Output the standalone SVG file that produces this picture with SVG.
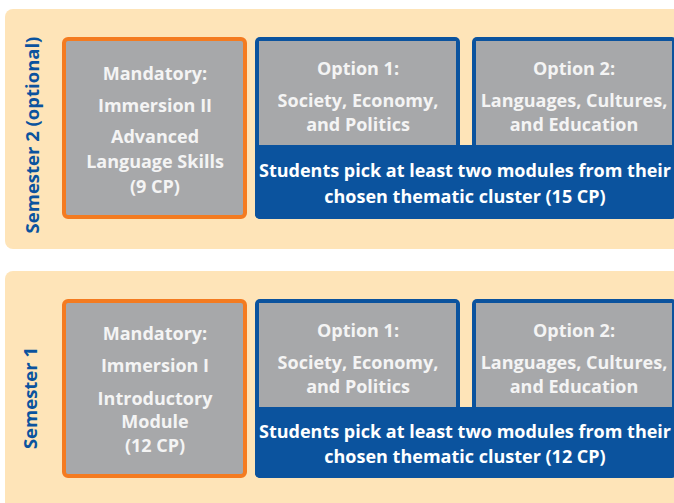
<svg xmlns="http://www.w3.org/2000/svg" width="674" height="503" viewBox="0 0 674 503">
<style>
.band{fill:#fee4b8}
.mand{fill:#a7a8aa;stroke:#f47b20;stroke-width:4}
.blue{fill:#0b539e}
.gray{fill:#a7a8aa}
.t{font-family:"Open Sans","Noto Sans",sans-serif;font-weight:700;font-size:18px;fill:#f4f4f4;text-anchor:middle}
.tb{font-family:"Open Sans","Noto Sans",sans-serif;font-weight:700;font-size:18px;fill:#ffffff;text-anchor:middle}
.sem{font-family:"Open Sans","Noto Sans",sans-serif;font-weight:700;font-size:18.5px;fill:#0b539e;text-anchor:middle}
</style>
<rect width="674" height="503" fill="#ffffff"/>
<g id="semester2">
<rect class="band" x="5" y="9" width="690" height="240" rx="8"/>
<text class="sem" transform="translate(39,135) rotate(-90)">Semester 2 (optional)</text>
</g>
<g id="mandatory2">
<rect class="mand" x="64" y="39" width="181" height="178" rx="4"/>
<text class="t" x="155" y="80">Mandatory:</text>
<text class="t" x="155" y="112">Immersion II</text>
<text class="t" x="155" y="143">Advanced</text>
<text class="t" x="155" y="168">Language Skills</text>
<text class="t" x="155" y="193">(9 CP)</text>
</g>
<g id="options2">
<rect class="blue" x="255" y="37" width="205" height="182" rx="5"/>
<rect class="blue" x="472" y="37" width="205" height="182" rx="5"/>
<rect class="blue" x="255" y="145" width="418" height="74" rx="5"/>
<rect class="gray" x="259" y="41" width="197" height="104"/>
<rect class="gray" x="476" y="41" width="196" height="104"/>
<text class="t" x="358" y="75">Option 1:</text>
<text class="t" x="358" y="107">Society, Economy,</text>
<text class="t" x="358" y="131">and Politics</text>
<text class="t" x="574" y="75">Option 2:</text>
<text class="t" x="574" y="107">Languages, Cultures,</text>
<text class="t" x="574" y="131">and Education</text>
<text class="tb" x="465" y="177">Students pick at least two modules from their</text>
<text class="tb" x="465" y="203">chosen thematic cluster (15 CP)</text>
</g>
<g id="semester1">
<rect class="band" x="5" y="271" width="690" height="250" rx="8"/>
<text class="sem" transform="translate(37,398) rotate(-90)">Semester 1</text>
</g>
<g id="mandatory1">
<rect class="mand" x="64" y="301" width="181" height="175" rx="4"/>
<text class="t" x="155" y="340">Mandatory:</text>
<text class="t" x="155" y="372">Immersion I</text>
<text class="t" x="155" y="405">Introductory</text>
<text class="t" x="155" y="428">Module</text>
<text class="t" x="155" y="452">(12 CP)</text>
</g>
<g id="options1">
<rect class="blue" x="255" y="299" width="205" height="179" rx="5"/>
<rect class="blue" x="472" y="299" width="205" height="179" rx="5"/>
<rect class="blue" x="255" y="407" width="418" height="71" rx="5"/>
<rect class="gray" x="259" y="303" width="197" height="104"/>
<rect class="gray" x="476" y="303" width="196" height="104"/>
<text class="t" x="358" y="337">Option 1:</text>
<text class="t" x="358" y="369">Society, Economy,</text>
<text class="t" x="358" y="393">and Politics</text>
<text class="t" x="574" y="337">Option 2:</text>
<text class="t" x="574" y="369">Languages, Cultures,</text>
<text class="t" x="574" y="393">and Education</text>
<text class="tb" x="465" y="438">Students pick at least two modules from their</text>
<text class="tb" x="465" y="463">chosen thematic cluster (12 CP)</text>
</g>
<g id="connectors"></g>
</svg>
